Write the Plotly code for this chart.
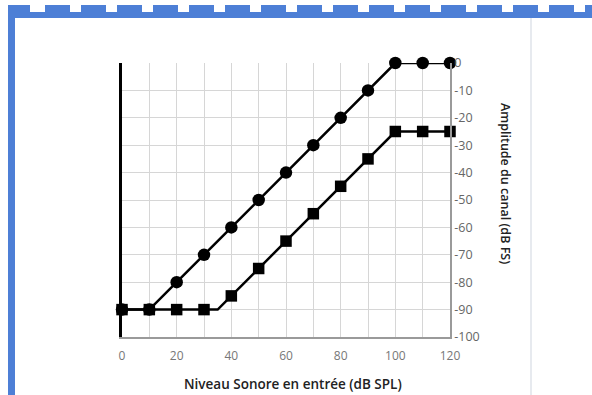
import plotly.graph_objects as go

# ---- data ----
levels = [0, 10, 20, 30, 40, 50, 60, 70, 80, 90, 100, 110, 120]
circle_out = [-90, -90, -80, -70, -60, -50, -40, -30, -20, -10, 0, 0, 0]
square_out = [-90, -90, -90, -90, -85, -75, -65, -55, -45, -35, -25, -25, -25]
square_knee_x = 35
square_knee_y = -90
x_ticks = [0, 20, 40, 60, 80, 100, 120]
y_ticks = [0, -10, -20, -30, -40, -50, -60, -70, -80, -90, -100]
y_ticktext = ["0", "-10", "-20", "-30", "-40", "-50", "-60", "-70", "-80", "-90", "-100"]
x_title = "Niveau Sonore en entrée (dB SPL)"
y_title = "Amplitude du canal (dB FS)"

W, H = 592, 395
L, R, T, B = 122, 450, 63, 337  # plot area in pixels

def px(xp):
    return (xp - L) / (R - L)

def py(yp):
    return (B - yp) / (B - T)

# line path for squares includes knee point (no marker)
sq_line_x, sq_line_y = [], []
for xv, yv in zip(levels, square_out):
    if xv > square_knee_x and square_knee_x not in sq_line_x:
        sq_line_x.append(square_knee_x)
        sq_line_y.append(square_knee_y)
    sq_line_x.append(xv)
    sq_line_y.append(yv)

fig = go.Figure()
fig.add_trace(go.Scatter(x=levels, y=circle_out, mode="lines+markers",
                         line=dict(color="black", width=2.5),
                         marker=dict(symbol="circle", size=12.5, color="black"),
                         cliponaxis=False, showlegend=False))
fig.add_trace(go.Scatter(x=sq_line_x, y=sq_line_y, mode="lines",
                         line=dict(color="black", width=2.5),
                         cliponaxis=False, showlegend=False))
fig.add_trace(go.Scatter(x=levels, y=square_out, mode="markers",
                         marker=dict(symbol="square", size=11.5, color="black"),
                         cliponaxis=False, showlegend=False))
fig.add_trace(go.Scatter(x=[None], y=[None], yaxis="y2", showlegend=False))

font = "Open Sans, Segoe UI, sans-serif"
fig.update_layout(
    width=W, height=H,
    margin=dict(l=L, r=W - R, t=T, b=H - B),
    paper_bgcolor="white", plot_bgcolor="white",
    xaxis=dict(range=[0, 120], tickvals=x_ticks, showgrid=True, gridcolor="#d6d6d6",
               gridwidth=1, minor=dict(dtick=10, showgrid=True, gridcolor="#d6d6d6"),
               showline=True, linecolor="#9a9a9a", linewidth=1.5, zeroline=False,
               ticks="", ticklabelstandoff=7,
               tickfont=dict(family=font, size=12, color="#777777"),
               fixedrange=True),
    yaxis=dict(range=[-100, 0], tickvals=y_ticks, showgrid=True, gridcolor="#d6d6d6",
               showline=True, linecolor="black", linewidth=3, showticklabels=False,
               zeroline=False, ticks="", side="left"),
    yaxis2=dict(range=[-100, 0], overlaying="y", side="right", tickvals=y_ticks,
                ticktext=y_ticktext, showgrid=False, zeroline=False, showline=True,
                linecolor="#9a9a9a", linewidth=1.5, ticks="",
                tickfont=dict(family=font, size=12.5, color="#666666")),
    annotations=[
        dict(text=x_title, xref="paper", yref="paper", x=px(293), y=py(384),
             showarrow=False, font=dict(family=font, size=13.5, color="#222222", weight=600),
             xanchor="center", yanchor="middle"),
        dict(text=y_title, xref="paper", yref="paper", x=px(506), y=py(183),
             showarrow=False, textangle=90,
             font=dict(family=font, size=12.5, color="#222222", weight=600),
             xanchor="center", yanchor="middle"),
    ],
)

blue = "#4d7fd6"
shapes = []
# left border
shapes.append(dict(type="rect", xref="paper", yref="paper", x0=px(8), x1=px(15),
                   y0=py(395), y1=py(5), fillcolor=blue, line=dict(width=0), layer="above"))
# top band
shapes.append(dict(type="rect", xref="paper", yref="paper", x0=px(8), x1=px(592),
                   y0=py(18), y1=py(12), fillcolor=blue, line=dict(width=0), layer="above"))
shapes.append(dict(type="rect", xref="paper", yref="paper", x0=px(8), x1=px(30),
                   y0=py(18), y1=py(5), fillcolor=blue, line=dict(width=0), layer="above"))
xb = 45
while xb < W:
    shapes.append(dict(type="rect", xref="paper", yref="paper", x0=px(xb), x1=px(min(xb + 25, W)),
                       y0=py(12), y1=py(5), fillcolor=blue, line=dict(width=0), layer="above"))
    xb += 36
# faint vertical separator on right
shapes.append(dict(type="line", xref="paper", yref="paper", x0=px(531), x1=px(531),
                   y0=py(395), y1=py(18), line=dict(color="#dfe3ea", width=1.5), layer="above"))
fig.update_layout(shapes=shapes)

fig.write_html("out.html")
